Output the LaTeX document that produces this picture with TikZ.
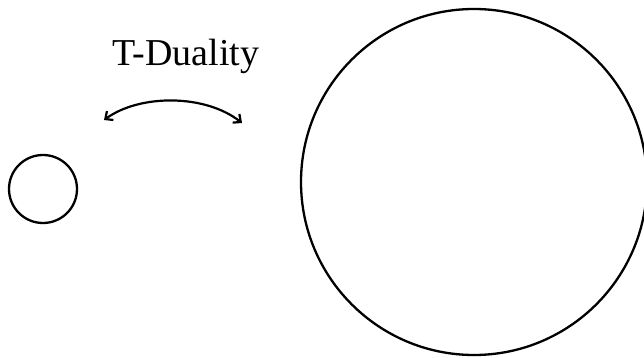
\documentclass[tikz,border=0pt]{standalone}
\usepackage{fontspec}
\setmainfont{Liberation Serif}
\usetikzlibrary{arrows.meta}
\begin{document}
\begin{tikzpicture}[x=1pt,y=-1pt,
  ring/.style={draw=black,line width=2.3pt,circle,inner sep=0pt},
  dualarrow/.style={line width=2.2pt,{Straight Barb[length=6pt,width=11pt]}-{Straight Barb[length=6pt,width=11pt]}}]
\useasboundingbox (0,0) rectangle (644,358);
\node[ring,minimum size=68pt] (small) at (43,189) {};
\node[ring,minimum size=346pt] (large) at (474,182) {};
\node[font=\fontsize{38pt}{42pt}\selectfont,inner sep=0pt] (label) at (186,56) {T-Duality};
\coordinate (la) at (104,120);
\coordinate (ra) at (242,123);
\draw[dualarrow] (la) .. controls (140,94) and (205,94) .. (ra);
\end{tikzpicture}
\end{document}
